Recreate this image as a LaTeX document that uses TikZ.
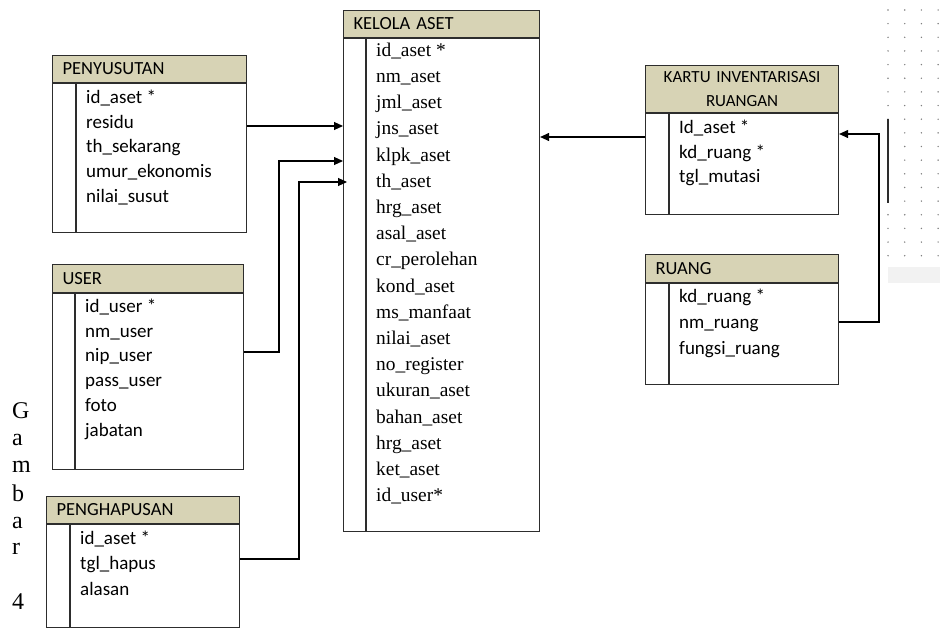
\documentclass[tikz,border=0pt]{standalone}
\usepackage{fontspec}
\setmainfont{Carlito}
\newfontfamily\timesfont{Liberation Serif}
\usetikzlibrary{arrows.meta}
\definecolor{headtan}{RGB}{215,211,181}
\definecolor{boxline}{RGB}{45,45,45}

\begin{document}
\begin{tikzpicture}[x=1pt,y=-1pt,
  tbl/.style={draw=boxline,line width=1.1pt,anchor=north west,inner sep=0pt},
  head/.style={tbl,fill=headtan,inner xsep=10pt,align=left,font=\fontsize{18.5}{22}\selectfont},
  attr/.style={anchor=mid west,inner sep=0pt,font=\fontsize{19}{22}\selectfont},
  serifattr/.style={attr,font=\timesfont\fontsize{19.4}{22}\selectfont},
  conn/.style={line width=1.1pt},
  arr/.style={conn,-{Triangle[length=9pt,width=8pt]}}]

\useasboundingbox (0,0) rectangle (940,627);

\node[head,text width=174pt,minimum height=27pt] (penyusutan-h) at (52,55) {PENYUSUTAN};
\node[tbl,minimum width=194pt,minimum height=149pt] (penyusutan) at (penyusutan-h.south west) {};
\draw[boxline,line width=1.1pt] ([xshift=24pt]penyusutan.north west) -- ([xshift=24pt]penyusutan.south west);
\foreach \t [count=\i from 0] in {id\_aset *, residu, th\_sekarang, umur\_ekonomis, nilai\_susut}
    \node[attr] (penyusutan-\i) at (86,101+24.7*\i) {\t};

\node[head,text width=171pt,minimum height=28pt] (user-h) at (52,264) {USER};
\node[tbl,minimum width=191pt,minimum height=176pt] (user) at (user-h.south west) {};
\draw[boxline,line width=1.1pt] ([xshift=23pt]user.north west) -- ([xshift=23pt]user.south west);
\foreach \t [count=\i from 0] in {id\_user *, nm\_user, nip\_user, pass\_user, foto, jabatan}
    \node[attr] (user-\i) at (85,310+24.8*\i) {\t};

\node[head,text width=173pt,minimum height=27pt] (penghapusan-h) at (46,496) {PENGHAPUSAN};
\node[tbl,minimum width=193pt,minimum height=103pt] (penghapusan) at (penghapusan-h.south west) {};
\draw[boxline,line width=1.1pt] ([xshift=24pt]penghapusan.north west) -- ([xshift=24pt]penghapusan.south west);
\foreach \t [count=\i from 0] in {id\_aset *, tgl\_hapus, alasan}
    \node[attr] (penghapusan-\i) at (80,542+25.5*\i) {\t};

\node[head,text width=176pt,minimum height=27pt] (kelola-h) at (343,10) {KELOLA ASET};
\node[tbl,minimum width=196pt,minimum height=493pt] (kelola) at (kelola-h.south west) {};
\draw[boxline,line width=1.1pt] ([xshift=23pt]kelola.north west) -- ([xshift=23pt]kelola.south west);
\foreach \t [count=\i from 0] in {id\_aset *, nm\_aset, jml\_aset, jns\_aset, klpk\_aset, th\_aset,
    hrg\_aset, asal\_aset, cr\_perolehan, kond\_aset, ms\_manfaat, nilai\_aset, no\_register,
    ukuran\_aset, bahan\_aset, hrg\_aset, ket\_aset, id\_user*}
    \node[serifattr] (kelola-\i) at (376,54+26.2*\i) {\t};

\node[head,text width=173pt,minimum height=47pt,align=center,font=\fontsize{17}{23.5}\selectfont] (kartu-h) at (645,65) {KARTU INVENTARISASI\\RUANGAN};
\node[tbl,minimum width=193pt,minimum height=101pt] (kartu) at (kartu-h.south west) {};
\draw[boxline,line width=1.1pt] ([xshift=24pt]kartu.north west) -- ([xshift=24pt]kartu.south west);
\foreach \t [count=\i from 0] in {Id\_aset *, kd\_ruang *, tgl\_mutasi}
    \node[attr] (kartu-\i) at (679,131+24.8*\i) {\t};

\node[head,text width=173pt,minimum height=28pt] (ruang-h) at (645,254) {RUANG};
\node[tbl,minimum width=193pt,minimum height=101pt] (ruang) at (ruang-h.south west) {};
\draw[boxline,line width=1.1pt] ([xshift=24pt]ruang.north west) -- ([xshift=24pt]ruang.south west);
\foreach \t [count=\i from 0] in {kd\_ruang *, nm\_ruang, fungsi\_ruang}
    \node[attr] (ruang-\i) at (679,300+26*\i) {\t};

\draw[arr] (penyusutan.east |- 0,126) -- (kelola.west |- 0,126);
\draw[arr] (user.east |- 0,352) -| (279,161) -- (kelola.west |- 0,161);
\draw[arr] (penghapusan.east |- 0,559) -| (299,182) -- ([xshift=4pt]kelola.west |- 0,182);
\draw[arr] (kartu.west |- 0,137) -- (kelola.east |- 0,137);
\draw[arr] (ruang.east |- 0,322) -| (879,134) -- (kartu.east |- 0,134);

\foreach \x in {0,...,3}
    \foreach \y in {0,...,18}
        \fill[gray] (888+16.7*\x,10+13.65*\y) circle (0.8);
\fill[gray!10] (888,267) rectangle (940,283);
\draw[boxline,line width=1.2pt] (888,119) -- (888,203);

\foreach \t/\y [count=\i] in {G/418, a/445, m/472, b/501, a/528, r/554, 4/609}
    \node[anchor=base west,inner sep=0pt,font=\timesfont\fontsize{24}{26}\selectfont] (gambar-\i) at (12,\y) {\t};

\end{tikzpicture}
\end{document}
